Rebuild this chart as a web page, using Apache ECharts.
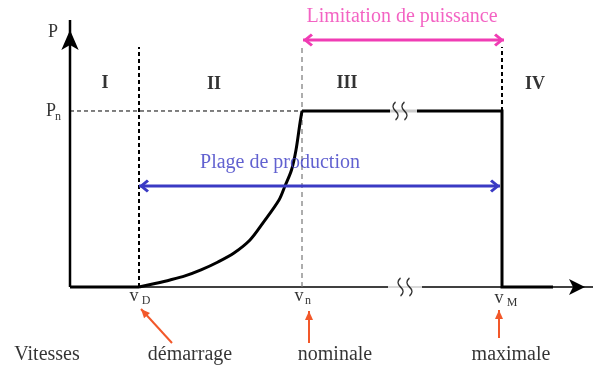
<!DOCTYPE html>
<html lang="fr">
<head>
	<meta charset="UTF-8">
	<title>Courbe de puissance éolienne</title>
	<script src="https://cdn.jsdelivr.net/npm/echarts@6/dist/echarts.min.js"></script>
	<style>
		html, body {
			margin: 0;
			padding: 0;
			background-color: #fff;
		}
		#main {
			width: 595px;
			height: 367px;
		}
	</style>
</head>
<body>
	<div id="main"></div>

	<script>
		// =========================
		// données (1 unité de vitesse = 20px, Pn = 1)
		// -------------------------
		var keySpeeds = [3.45, 11.6, 21.6];      // vD, vn, vM
		var speedSubs = ['D', 'n', 'M'];
		var cutEnd = 24.15;                       // fin du trait épais après vM
		var Pn = 1;

		// zone II : montée de la puissance
		var curveSpeed = [3.45, 4.25, 5.0, 5.75, 6.55, 7.4, 8.2, 9.0, 9.65, 10.45, 10.75, 11.075, 11.3, 11.5, 11.6];
		var curvePower = [0, 0.02, 0.04, 0.063, 0.097, 0.142, 0.193, 0.267, 0.364, 0.494, 0.574, 0.665, 0.778, 0.932, 1];

		var zoneNames = ['I', 'II', 'III', 'IV'];
		var bottomLabels = ['Vitesses', 'démarrage', 'nominale', 'maximale'];
		var topTitle = 'Limitation de puissance';
		var midTitle = 'Plage de production';

		var vD = keySpeeds[0], vN = keySpeeds[1], vM = keySpeeds[2];

		var SERIF = '"Liberation Serif", "DejaVu Serif", serif';
		var PINK = '#f03cb4';
		var BLUE = '#3a3ac4';
		var RED = '#f2582a';
		var CHEVRON = 'path://M6,0 L12,7.5 L10.2,9.5 L6,4.2 L1.8,9.5 L0,7.5 Z';
		var SQUIGGLE = 'path://M4,0 Q0,5 4,10 Q8,15 4,20 M11,0 Q7,5 11,10 Q15,15 11,20';

		function zip(a, b) {
			var out = [];
			for (var i = 0; i < a.length; i++) out.push([a[i], b[i]]);
			return out;
		}

		// segment simple
		function seg(data, color, width, type, extra) {
			var s = {
				type: 'line',
				data: data,
				symbol: 'none',
				silent: true,
				lineStyle: { color: color, width: width, type: type || 'solid', join: 'miter' },
				itemStyle: { color: color }
			};
			if (extra) {
				for (var k in extra) s[k] = extra[k];
			}
			return s;
		}

		// flèche : pointe(s) en symbole sur les extrémités
		function arrowEnd(pt, symbol, size, rot, offset) {
			return { value: pt, symbol: symbol, symbolSize: size, symbolRotate: rot, symbolOffset: offset };
		}

		// textes posés en coordonnées de données
		function texts(items, style) {
			return {
				type: 'scatter',
				silent: true,
				symbolSize: 0,
				itemStyle: { color: 'transparent' },
				z: 10,
				label: Object.assign({
					show: true,
					position: 'inside',
					formatter: '{b}',
					fontFamily: SERIF,
					color: '#000'
				}, style),
				data: items
			};
		}

		var chart = echarts.init(document.getElementById('main'));

		var option = {
			animation: false,
			grid: { left: 0, right: 0, top: 0, bottom: 0 },
			// origine à (70px, 287px)
			xAxis: { type: 'value', min: -3.5, max: 26.25, show: false },
			yAxis: { type: 'value', min: -0.45455, max: 1.63068, show: false },
			series: [
				// axes
				seg([
					[0, 0],
					arrowEnd([0, 1.517], 'arrow', [13, 20], 0, [0, 10])
				], '#000', 2.5),
				seg([
					[0, 0],
					arrowEnd([26.15, 0], 'arrow', [12, 16], -90, [-8, 0])
				], '#000', 1.5),

				// pointillés
				seg([[0, Pn], [vN, Pn]], '#000', 1, [4, 3]),
				seg([[vD, 0], [vD, 1.364]], '#000', 2, [4, 3]),
				seg([[vN, 0], [vN, 1.364]], '#777', 1.2, [5, 4]),
				seg([[vM, Pn], [vM, 1.364]], '#000', 2, [4, 3]),

				// courbe de puissance
				seg([[0, 0], [vD, 0]], '#000', 3),
				seg(zip(curveSpeed, curvePower), '#000', 3, 'solid', { smooth: 0.3 }),
				seg([[vN, Pn], [vM, Pn], [vM, 0], [cutEnd, 0]], '#000', 3),

				// coupures
				{
					type: 'scatter',
					silent: true,
					z: 5,
					symbol: 'rect',
					itemStyle: { color: '#fff' },
					data: [
						{ value: [16.675, Pn], symbolSize: [27, 9] },
						{ value: [16.75, 0], symbolSize: [34, 9] }
					]
				},
				{
					type: 'scatter',
					silent: true,
					z: 6,
					symbol: SQUIGGLE,
					symbolSize: [14, 18],
					itemStyle: { color: 'transparent', borderColor: '#000', borderWidth: 1.5 },
					data: [[16.5, Pn], [16.75, 0]]
				},

				// flèches d'annotation
				seg([
					arrowEnd([11.65, 1.403], CHEVRON, [13, 10], 90, [5, 0]),
					arrowEnd([21.7, 1.403], CHEVRON, [13, 10], -90, [-5, 0])
				], PINK, 3),
				seg([
					arrowEnd([3.45, 0.574], CHEVRON, [13, 10], 90, [5, 0]),
					arrowEnd([21.5, 0.574], CHEVRON, [13, 10], -90, [-5, 0])
				], BLUE, 3),
				seg([
					[5.1, -0.318],
					arrowEnd([3.55, -0.125], 'triangle', [8, 9], 42, [3, 3.3])
				], RED, 2),
				seg([
					[11.95, -0.318],
					arrowEnd([11.95, -0.136], 'triangle', [8, 9], 0, [0, 4.5])
				], RED, 2),
				seg([
					[21.45, -0.29],
					arrowEnd([21.45, -0.131], 'triangle', [8, 9], 0, [0, 4.5])
				], RED, 2),

				// textes
				texts([
					{ name: zoneNames[0], value: [1.75, 1.159] },
					{ name: zoneNames[1], value: [7.2, 1.153] },
					{ name: zoneNames[2], value: [13.85, 1.159] },
					{ name: zoneNames[3], value: [23.25, 1.153] }
				], { fontSize: 18, fontWeight: 'bold' }),
				texts([
					{ name: 'P', value: [-0.85, 1.449] },
					{ name: 'P', value: [-0.95, 1.0] },
					{ name: 'v', value: [3.2, -0.051] },
					{ name: 'v', value: [11.45, -0.051] },
					{ name: 'v', value: [21.45, -0.0625] }
				], { fontSize: 18 }),
				texts([
					{ name: 'n', value: [-0.6, 0.965] },
					{ name: speedSubs[0], value: [3.8, -0.08] },
					{ name: speedSubs[1], value: [11.9, -0.08] },
					{ name: speedSubs[2], value: [22.1, -0.091] }
				], { fontSize: 12 }),
				texts([
					{ name: topTitle, value: [16.6, 1.534] }
				], { fontSize: 20, color: PINK }),
				texts([
					{ name: midTitle, value: [10.5, 0.705] }
				], { fontSize: 20, color: BLUE }),
				texts([
					{ name: bottomLabels[0], value: [-1.15, -0.386] },
					{ name: bottomLabels[1], value: [6.0, -0.386] },
					{ name: bottomLabels[2], value: [13.25, -0.386] },
					{ name: bottomLabels[3], value: [22.05, -0.386] }
				], { fontSize: 20 })
			]
		};

		chart.setOption(option);
	</script>
</body>
</html>
